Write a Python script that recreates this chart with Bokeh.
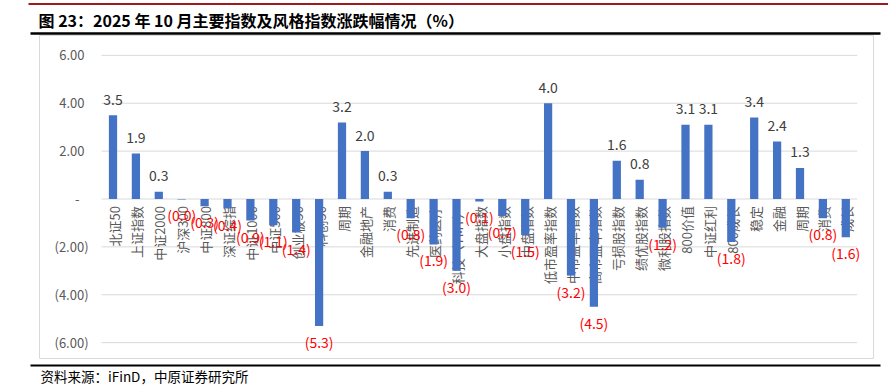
import math
from bokeh.plotting import figure
from bokeh.models import ColumnDataSource, Range1d
from bokeh.core.properties import value
from bokeh.embed import file_html
from bokeh.resources import INLINE

# ---------------- data ----------------
title_text = "图 23：2025 年 10 月主要指数及风格指数涨跌幅情况（%）"
source_text = "资料来源：iFinD，中原证券研究所"
categories = ["北证50", "上证指数", "中证2000", "沪深300", "中证800", "深证综指", "中证1000",
              "中证500", "创业板50", "科创50", "周期", "金融地产", "消费", "先进制造", "医药医疗",
              "科技（TMT）", "大盘指数", "小盘指数", "中盘指数", "低市盈率指数", "中市盈率指数",
              "高市盈率指数", "亏损股指数", "绩优股指数", "微利股指数", "800价值", "中证红利",
              "800成长", "稳定", "金融", "周期", "消费", "成长"]
changes = [3.5, 1.9, 0.3, -0.02, -0.3, -0.4, -0.9, -1.1, -1.4, -5.3, 3.2, 2.0, 0.3, -0.8, -1.9,
           -3.0, -0.1, -0.7, -1.5, 4.0, -3.2, -4.5, 1.6, 0.8, -1.2, 3.1, 3.1, -1.8, 3.4, 2.4, 1.3,
           -0.8, -1.6]
y_ticks = [6, 4, 2, 0, -2, -4, -6]

# ---------------- layout helpers (page pixel -> plot coords, decoration only) ----------------
PX_X = 22.9      # pixels per category
PX_Y = 23.94     # pixels per 1 %
CX0 = 112.5      # page x of first category centre
ZY = 198.5       # page y of zero line
W, H = 888, 385
OX, OY = 0, 0    # page position of the canvas
def dx(px):
    return (px - CX0) / PX_X
def dy(py):
    return (ZY - py) / PX_Y

X0, X1 = dx(OX), dx(OX + W)
Y1, Y0 = dy(OY), dy(OY + H)

FONT = value("Noto Sans CJK SC")

p = figure(width=W, height=H, x_range=Range1d(X0, X1), y_range=Range1d(Y0, Y1),
           output_backend="svg", toolbar_location=None, min_border=0,
           x_axis_location=None, y_axis_location=None, outline_line_color=None,
           background_fill_color="white", border_fill_color="white")
p.grid.visible = False

n = len(categories)
xs = list(range(n))

# chart box
p.quad(left=[dx(39)], right=[dx(873)], top=[dy(35)], bottom=[dy(358)],
       fill_color=None, line_color="#D9D9D9", line_width=1)

# gridlines
p.segment(x0=[-0.5] * len(y_ticks), x1=[n - 0.5] * len(y_ticks), y0=y_ticks, y1=y_ticks,
          line_color="#D9D9D9", line_width=1)

# y tick labels (accounting style)
def fmt_tick(t):
    if t == 0:
        return "-"
    if t < 0:
        return "(%.2f)" % abs(t)
    return "%.2f" % t
tick_src = ColumnDataSource(dict(
    x=[-0.5] * len(y_ticks), y=y_ticks, text=[fmt_tick(t) for t in y_ticks],
    xo=[-13 if t < 0 else (-22 if t == 0 else -17) for t in y_ticks]))
p.text(x="x", y="y", text="text", x_offset="xo", source=tick_src, text_align="right",
       text_baseline="middle", text_font=FONT, text_font_size="13px", text_color="#595959")

# category labels (rotated, next to zero line)
cat_src = ColumnDataSource(dict(x=xs, y=[0] * n, text=categories))
p.text(x="x", y="y", text="text", source=cat_src, angle=math.pi / 2, text_align="right",
       text_baseline="middle", x_offset=1, y_offset=7, text_font=FONT, text_font_size="13px",
       text_color="#595959")

# bars
bar_src = ColumnDataSource(dict(x=xs, top=changes))
p.vbar(x="x", top="top", bottom=0, width=0.36, source=bar_src, fill_color="#4472C4",
       line_color=None)

# data labels
lab_src = ColumnDataSource(dict(
    x=xs, y=changes,
    text=[("%.1f" % v) if v > 0 else ("(%.1f)" % abs(v)) for v in changes],
    color=["#404040" if v > 0 else "#FF0000" for v in changes],
    yo=[-16 if v > 0 else 16 for v in changes]))
p.text(x="x", y="y", text="text", source=lab_src, y_offset="yo", text_align="center",
       text_baseline="middle", text_font=FONT, text_font_size="14px", text_color="color")

# header / footer decorations
p.segment(x0=[dx(28)], x1=[dx(888)], y0=[dy(3.5)], y1=[dy(3.5)], line_color="#9E1B20", line_width=2)
p.text(x=[dx(38)], y=[dy(19)], text=[title_text], text_align="left", text_baseline="middle",
       text_font=FONT, text_font_size="16px", text_font_style="bold", text_color="#000000")
p.segment(x0=[dx(30)], x1=[dx(880)], y0=[dy(33)], y1=[dy(33)], line_color="#000000", line_width=2.5)
p.segment(x0=[dx(30)], x1=[dx(880)], y0=[dy(365)], y1=[dy(365)], line_color="#000000", line_width=2)
p.text(x=[dx(40)], y=[dy(375.5)], text=[source_text], text_align="left", text_baseline="middle",
       text_font=FONT, text_font_size="13.5px", text_color="#000000")

open("out.html", "w").write(file_html(p, INLINE))
